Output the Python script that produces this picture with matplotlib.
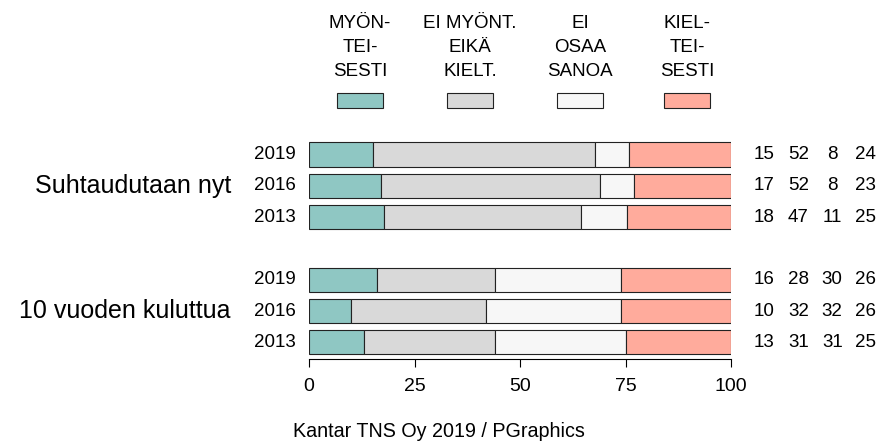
import matplotlib
matplotlib.use("Agg")
import matplotlib.pyplot as plt
from matplotlib.patches import Rectangle

plt.rcParams['font.family'] = ['Liberation Sans', 'DejaVu Sans']

categories = ["MYÖN-\nTEI-\nSESTI", "EI MYÖNT.\nEIKÄ\nKIELT.", "EI\nOSAA\nSANOA", "KIEL-\nTEI-\nSESTI"]
colors = ["#8FC7C3", "#D9D9D9", "#F7F7F7", "#FFAB9C"]
groups = ["Suhtaudutaan nyt", "10 vuoden kuluttua"]
years = ["2019", "2016", "2013"]

now_vals = [
    [15, 52, 8, 24],
    [17, 52, 8, 23],
    [18, 47, 11, 25],
]
later_vals = [
    [16, 28, 30, 26],
    [10, 32, 32, 26],
    [13, 31, 31, 25],
]
caption = "Kantar TNS Oy 2019 / PGraphics"

W, H = 885, 445


def fx(x):
    return x / W


def fy(y):
    return 1 - y / H


fig = plt.figure(figsize=(W / 100, H / 100), dpi=100)
ax = fig.add_axes([fx(309), fy(359), fx(731) - fx(309), fy(130) - fy(359)])

row0 = 154.5
pitch = 31.3
ax.set_xlim(0, 100)
ax.set_ylim((359 - row0) / pitch, (130 - row0) / pitch)

num_x = [107.8, 116.0, 124.0, 131.9]

for g, (name, vals) in enumerate(zip(groups, [now_vals, later_vals])):
    base = g * 4
    for i, row in enumerate(vals):
        y = base + i
        total = sum(row)
        left = 0
        for j, v in enumerate(row):
            w = v / total * 100
            ax.barh(y, w, left=left, height=0.77, color=colors[j],
                    edgecolor="#222222", linewidth=0.8)
            left += w
            ax.text(num_x[j], y, str(v), ha="center", va="center",
                    fontsize=13.5, clip_on=False)
        ax.text(-3.1, y, years[i], ha="right", va="center", fontsize=13.5,
                clip_on=False)
    ax.text(-18.5, base + 1, name, ha="right", va="center", fontsize=18,
            clip_on=False)

for s in ["top", "right", "left"]:
    ax.spines[s].set_visible(False)
ax.spines["bottom"].set_linewidth(0.8)
ax.set_yticks([])
ax.set_xticks([0, 25, 50, 75, 100])
ax.tick_params(axis="x", length=6, width=0.8, pad=8, labelsize=14)

# legend
box_cx = [360, 470, 580, 687]
for cx, lab, c in zip(box_cx, categories, colors):
    fig.patches.append(Rectangle((fx(cx - 23), fy(108)), 46 / W, 15 / H,
                                 transform=fig.transFigure, facecolor=c,
                                 edgecolor="#222222", linewidth=0.8))
    for k, line in enumerate(lab.split("\n")):
        fig.text(fx(cx), fy(28 + 24 * k), line, ha="center", va="baseline",
                 fontsize=13.5)

fig.text(fx(293), fy(437), caption, ha="left", va="baseline", fontsize=14.2)

fig.savefig("out.png", dpi=100)
